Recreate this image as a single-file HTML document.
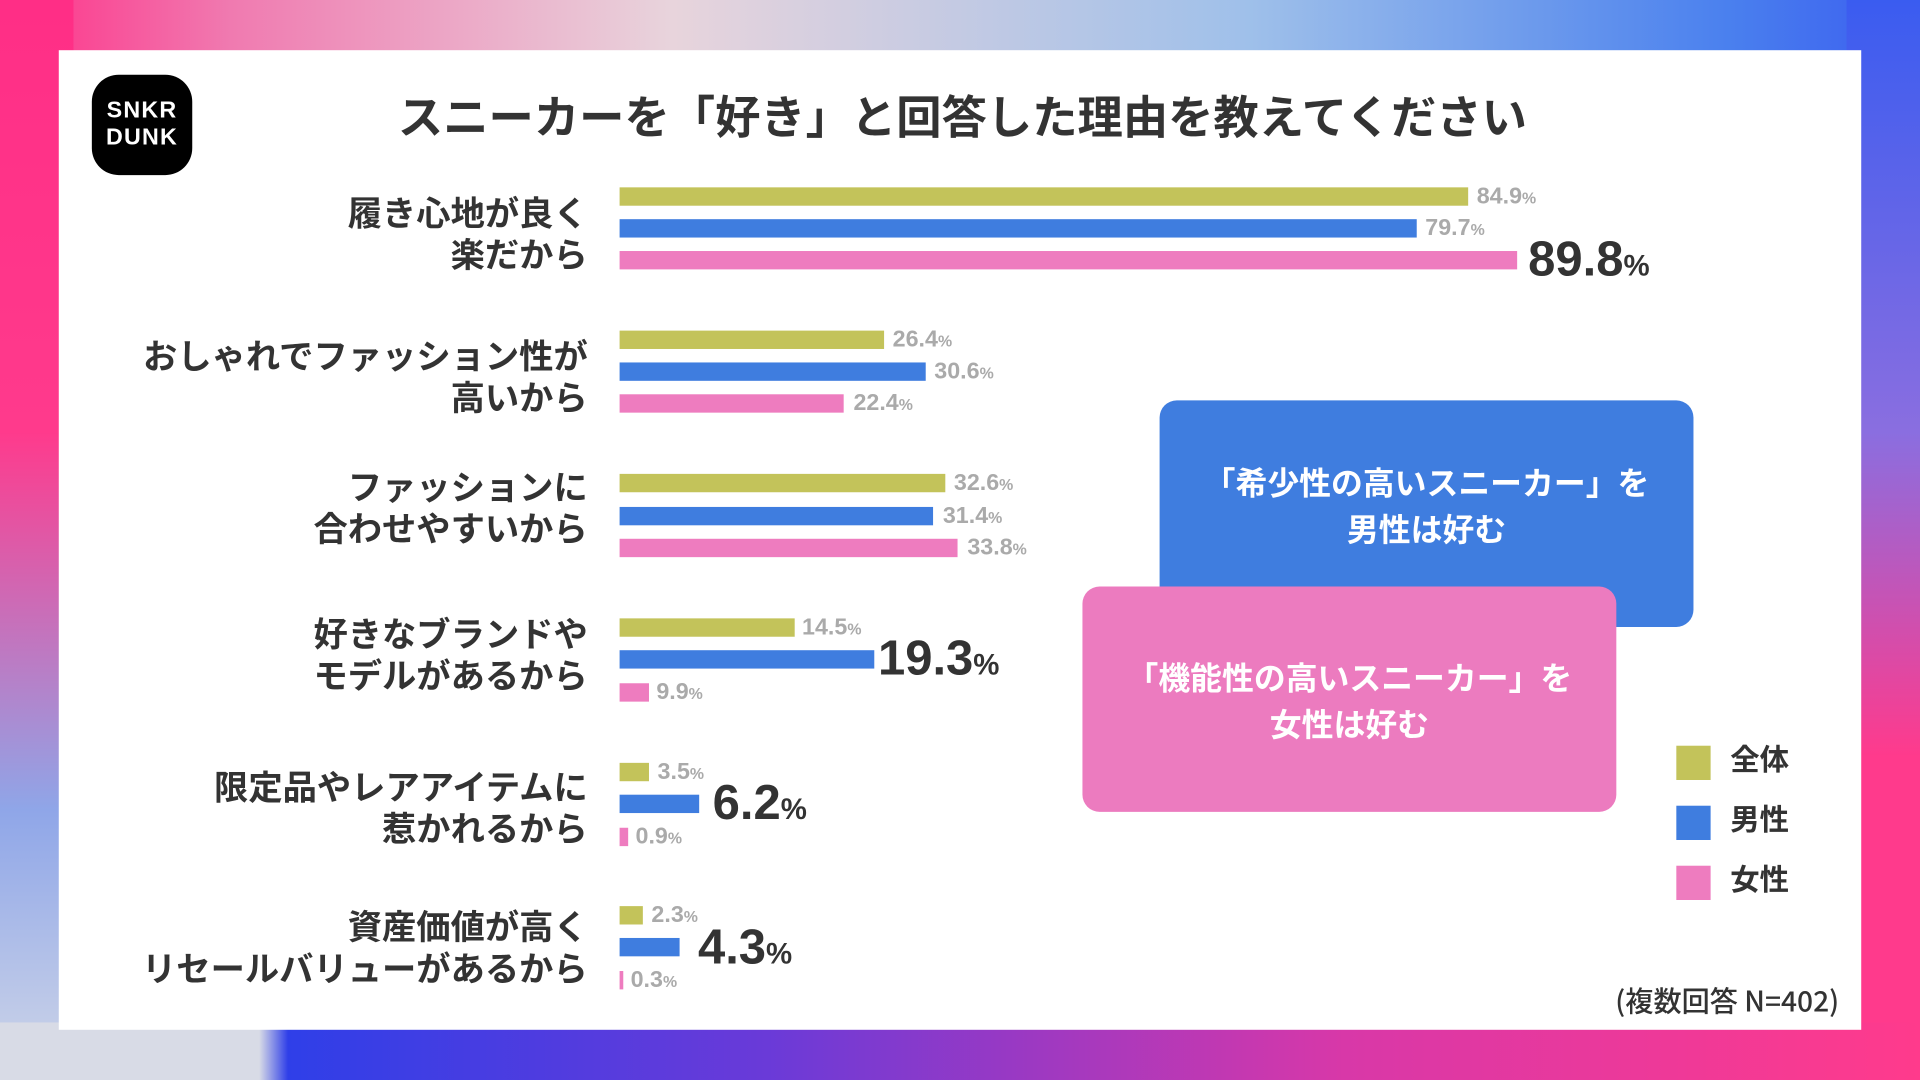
<!DOCTYPE html>
<html><head><meta charset="utf-8"><style>
html,body{margin:0;padding:0;width:1920px;height:1080px;overflow:hidden}
#w{position:absolute;left:0;top:0;width:1568px;height:882px;transform:scale(1.22449);transform-origin:0 0;
background:linear-gradient(90deg,#ff2e86 0%,#f07ab0 12%,#e8d4dc 35%,#9fc0ea 65%,#4a80ee 90%,#3a5cf0 100%);
font-family:"Liberation Sans","Noto Sans CJK JP",sans-serif;font-weight:bold;color:#333;overflow:hidden}
#bl{position:absolute;left:0;top:0;width:60px;height:882px;background:linear-gradient(180deg,#ff2e86 0%,#ff3a8c 40%,#8fa6e8 75%,#cfd6e8 100%)}
#br{position:absolute;right:0;top:0;width:60px;height:882px;background:linear-gradient(180deg,#3a5cf0 0%,#8a6ee0 40%,#ff3a8c 70%,#ff3a8c 100%)}
#bb{position:absolute;left:0;top:835px;width:1568px;height:47px;background:linear-gradient(90deg,#d8dbe6 0%,#d8dbe6 13.5%,#2f3fe8 15%,#6a3ad8 40%,#d838a8 70%,#ff3a8c 100%)}
#card{position:absolute;left:48px;top:41px;width:1472px;height:800px;background:#fff}
.a{position:absolute;white-space:nowrap}
.bar{position:absolute;height:15px;left:506px}
.g{background:#c3c35a}.b{background:#3f7ddf}.p{background:#ee7cbf}
.v{position:absolute;color:#aaa;font-size:19px;line-height:20px}
.v small{font-size:13px}
.big{position:absolute;color:#333;font-size:40px;line-height:40px}
.big small{font-size:24px}
.lab{position:absolute;right:1088px;text-align:right;font-size:28px;line-height:34px;font-family:"Noto Sans CJK JP",sans-serif}
.box{position:absolute;border-radius:14px;color:#fff;font-size:26px;line-height:38px;text-align:center;font-family:"Noto Sans CJK JP",sans-serif}
</style></head><body><div id="w">
<div id="bl"></div><div id="br"></div><div id="bb"></div>
<div id="card"></div>
<div class="a" style="left:75px;top:61px;width:82px;height:82px;background:#000;border-radius:22px;color:#fff;font-size:19px;line-height:22px;text-align:center;padding-top:19px;box-sizing:border-box;letter-spacing:1px">SNKR<br>DUNK</div>
<div class="a" style="left:0;width:1568px;top:68px;text-align:center;font-size:37px;line-height:50px;padding-left:2px;font-family:'Noto Sans CJK JP',sans-serif">スニーカーを「好き」と回答した理由を教えてください</div>

<div class="lab" style="top:156px">履き心地が良く<br>楽だから</div>
<div class="lab" style="top:273px">おしゃれでファッション性が<br>高いから</div>
<div class="lab" style="top:380px">ファッションに<br>合わせやすいから</div>
<div class="lab" style="top:500px">好きなブランドや<br>モデルがあるから</div>
<div class="lab" style="top:625px">限定品やレアアイテムに<br>惹かれるから</div>
<div class="lab" style="top:739px">資産価値が高く<br>リセールバリューがあるから</div>

<div class="bar g" style="top:153px;width:693px"></div><div class="v" style="left:1206px;top:151px">84.9<small>%</small></div>
<div class="bar b" style="top:179px;width:651px"></div><div class="v" style="left:1164px;top:177px">79.7<small>%</small></div>
<div class="bar p" style="top:205px;width:733px"></div><div class="big" style="left:1248px;top:192px">89.8<small>%</small></div>

<div class="bar g" style="top:270px;width:216px"></div><div class="v" style="left:729px;top:268px">26.4<small>%</small></div>
<div class="bar b" style="top:296px;width:250px"></div><div class="v" style="left:763px;top:294px">30.6<small>%</small></div>
<div class="bar p" style="top:322px;width:183px"></div><div class="v" style="left:697px;top:320px">22.4<small>%</small></div>

<div class="bar g" style="top:387px;width:266px"></div><div class="v" style="left:779px;top:385px">32.6<small>%</small></div>
<div class="bar b" style="top:414px;width:256px"></div><div class="v" style="left:770px;top:412px">31.4<small>%</small></div>
<div class="bar p" style="top:440px;width:276px"></div><div class="v" style="left:790px;top:438px">33.8<small>%</small></div>

<div class="bar g" style="top:505px;width:143px"></div><div class="v" style="left:655px;top:503px">14.5<small>%</small></div>
<div class="bar b" style="top:531px;width:208px"></div><div class="big" style="left:717px;top:518px">19.3<small>%</small></div>
<div class="bar p" style="top:558px;width:24px"></div><div class="v" style="left:536px;top:556px">9.9<small>%</small></div>

<div class="bar g" style="top:623px;width:24px"></div><div class="v" style="left:537px;top:621px">3.5<small>%</small></div>
<div class="bar b" style="top:649px;width:65px"></div><div class="big" style="left:582px;top:636px">6.2<small>%</small></div>
<div class="bar p" style="top:676px;width:7px"></div><div class="v" style="left:519px;top:674px">0.9<small>%</small></div>

<div class="bar g" style="top:740px;width:19px"></div><div class="v" style="left:532px;top:738px">2.3<small>%</small></div>
<div class="bar b" style="top:766px;width:49px"></div><div class="big" style="left:570px;top:754px">4.3<small>%</small></div>
<div class="bar p" style="top:793px;width:3px"></div><div class="v" style="left:515px;top:791px">0.3<small>%</small></div>

<div class="box" style="left:947px;top:327px;width:436px;height:185px;background:#3f7ddf;padding-top:48px;box-sizing:border-box">「希少性の高いスニーカー」を<br>男性は好む</div>
<div class="box" style="left:884px;top:479px;width:436px;height:184px;background:#ec7bbf;padding-top:55px;box-sizing:border-box">「機能性の高いスニーカー」を<br>女性は好む</div>

<div class="a g" style="left:1369px;top:609px;width:28px;height:28px"></div><div class="a" style="left:1413px;top:607px;font-size:24px;line-height:30px">全体</div>
<div class="a b" style="left:1369px;top:658px;width:28px;height:28px"></div><div class="a" style="left:1413px;top:656px;font-size:24px;line-height:30px">男性</div>
<div class="a p" style="left:1369px;top:707px;width:28px;height:28px"></div><div class="a" style="left:1413px;top:705px;font-size:24px;line-height:30px">女性</div>

<div class="a" style="right:66px;top:801px;font-size:23px;line-height:30px;font-weight:500;font-family:'Noto Sans CJK JP',sans-serif">(複数回答 N=402)</div>
</div></body></html>
